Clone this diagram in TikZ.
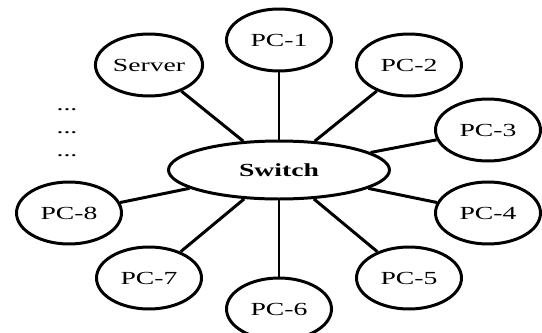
\documentclass[tikz,border=0pt]{standalone}
\usepackage{fontspec}
\setmainfont[FakeStretch=1.5]{Liberation Serif}
\usepackage{tikz}
\usetikzlibrary{shapes.geometric}

\begin{document}
\begin{tikzpicture}[x=0.02cm, y=-0.02cm]
                \useasboundingbox (0,0) rectangle (542,332);
                \begin{scope}[every node/.style={line width=1.7pt, draw, ellipse, minimum width=2.1cm, minimum height=1.24cm, inner sep=1, font=\fontsize{10.5}{12}\selectfont}]
                        \node (Sw) at (279,170) [minimum width=4.42cm, minimum height=1.16cm] {\textbf{Switch}};
                        \node (Srv) at (149,65) {Server};
                        \node (PC1) at (279,40) {PC-1};
                        \node (PC2) at (409,65) {PC-2};
                        \node (PC3) at (488,130) {PC-3};
                        \node (PC4) at (488,213) {PC-4};
                        \node (PC5) at (409,278) {PC-5};
                        \node (PC6) at (279,309) {PC-6};
                        \node (PC7) at (149,278) {PC-7};
                        \node (PC8) at (69,213) {PC-8};
                \end{scope}
                \begin{scope}[every node/.style={draw=none, inner sep=0pt, font=\fontsize{10.5}{12}\selectfont}]
                        \node (D1) at (67,110) {...};
                        \node (D2) at (67,133) {...};
                        \node (D3) at (67,156) {...};
                \end{scope}
                \begin{scope}[every path/.style={line width=1.7pt}]
                        \path (Sw) edge (Srv);
                        \path (Sw) edge (PC1);
                        \path (Sw) edge (PC2);
                        \path (Sw) edge (PC3);
                        \path (Sw) edge (PC4);
                        \path (Sw) edge (PC5);
                        \path (Sw) edge (PC6);
                        \path (Sw) edge (PC7);
                        \path (Sw) edge (PC8);
                \end{scope}
        \end{tikzpicture}
\end{document}
